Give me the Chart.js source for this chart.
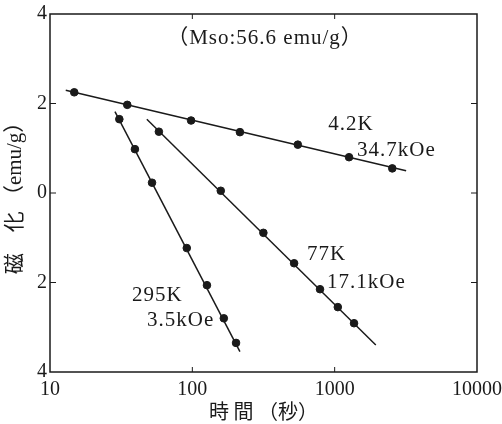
<!DOCTYPE html>
<html>
<head>
<meta charset="utf-8">
<script src="https://cdn.jsdelivr.net/npm/chart.js@4.4.0/dist/chart.umd.min.js"></script>
<style>
  html, body { margin:0; padding:0; background:#fff; }
</style>
</head>
<body>
<canvas id="chart" width="502" height="424"></canvas>
<script>
// ---- data (time in s, magnetisation in emu/g) ----
var T_42K  = [14.8, 34.9, 98, 216, 551, 1262, 2540];
var M_42K  = [2.25, 1.97, 1.62, 1.36, 1.08, 0.80, 0.55];
var FIT_T_42K = [12.9, 3177];
var FIT_M_42K = [2.295, 0.498];

var T_77K  = [58.2, 158.4, 315.6, 519, 789, 1052, 1368];
var M_77K  = [1.37, 0.05, -0.89, -1.57, -2.15, -2.55, -2.91];
var FIT_T_77K = [47.9, 1945];
var FIT_M_77K = [1.647, -3.397];

var T_295K = [30.7, 39.5, 52.1, 91.4, 126.7, 166.4, 202.8];
var M_295K = [1.65, 0.98, 0.23, -1.23, -2.06, -2.80, -3.35];
var FIT_T_295K = [28.6, 216];
var FIT_M_295K = [1.817, -3.546];

var X_TICKS = [10, 100, 1000, 10000];
var Y_TICKS = [-4, -2, 0, 2, 4];

// annotation texts, anchored in data coordinates
var NOTES = [
  { text: "（Mso:56.6 emu/g）", x: 324,  y: 3.46,  align: "center" },
  { text: "4.2K",    x: 900,  y: 1.52,  align: "left" },
  { text: "34.7kOe", x: 1435, y: 0.96,  align: "left" },
  { text: "77K",     x: 640,  y: -1.385, align: "left" },
  { text: "17.1kOe", x: 885,  y: -1.99, align: "left" },
  { text: "295K",    x: 37.7, y: -2.28, align: "left" },
  { text: "3.5kOe",  x: 48.1, y: -2.84, align: "left" }
];

var INK = "#1a1a1a";
var SERIF = "'Liberation Serif', 'DejaVu Serif', serif";
var CJK = "'Noto Sans CJK JP', sans-serif";

function pts(xs, ys){
  var out = [];
  for (var i=0;i<xs.length;i++) out.push({ x: xs[i], y: ys[i] });
  return out;
}
function fitLine(xs, ys){
  return { type:"line", data: pts(xs, ys), borderColor: INK, borderWidth: 1.5,
           pointRadius: 0, fill: false, tension: 0 };
}
function dots(xs, ys){
  return { type:"scatter", data: pts(xs, ys), backgroundColor: INK, borderColor: INK,
           pointRadius: 3.8, showLine: false };
}

// frame, inward ticks and text notes
var decorPlugin = {
  id: "decor",
  afterDraw: function(chart){
    var ctx = chart.ctx, a = chart.chartArea;
    var xs = chart.scales.x, ys = chart.scales.y;
    ctx.save();
    ctx.strokeStyle = INK;
    ctx.lineWidth = 1.5;
    ctx.strokeRect(a.left, a.top, a.right - a.left, a.bottom - a.top);
    ctx.lineWidth = 1;
    ctx.beginPath();
    [100, 1000].forEach(function(v){
      var px = xs.getPixelForValue(v);
      ctx.moveTo(px, a.bottom); ctx.lineTo(px, a.bottom - 5);
      ctx.moveTo(px, a.top);    ctx.lineTo(px, a.top + 5);
    });
    [-2, 0, 2].forEach(function(v){
      var py = ys.getPixelForValue(v);
      ctx.moveTo(a.left, py);  ctx.lineTo(a.left + 6, py);
      ctx.moveTo(a.right, py); ctx.lineTo(a.right - 6, py);
    });
    ctx.stroke();

    ctx.fillStyle = INK;
    ctx.textBaseline = "middle";
    ctx.font = "21px " + SERIF + ", " + CJK;
    if ("letterSpacing" in ctx) ctx.letterSpacing = "1px";
    NOTES.forEach(function(n){
      ctx.textAlign = n.align;
      ctx.fillText(n.text, xs.getPixelForValue(n.x), ys.getPixelForValue(n.y));
    });
    ctx.restore();
  }
};

function fixBox(w, h){
  return function(scale){
    if (w !== null) scale.width = w;
    if (h !== null) scale.height = h;
    scale.paddingLeft = 0; scale.paddingRight = 0;
    scale.paddingTop = 0;  scale.paddingBottom = 0;
  };
}

new Chart(document.getElementById("chart").getContext("2d"), {
  data: {
    datasets: [
      fitLine(FIT_T_42K, FIT_M_42K),  dots(T_42K, M_42K),
      fitLine(FIT_T_77K, FIT_M_77K),  dots(T_77K, M_77K),
      fitLine(FIT_T_295K, FIT_M_295K), dots(T_295K, M_295K)
    ]
  },
  options: {
    responsive: false,
    animation: false,
    layout: { padding: { top: 14, right: 25, left: 0, bottom: 0 } },
    plugins: { legend: { display: false }, tooltip: { enabled: false } },
    scales: {
      x: {
        type: "logarithmic",
        min: 10, max: 10000,
        grid: { display: false, drawTicks: false },
        border: { display: false },
        afterBuildTicks: function(s){ s.ticks = X_TICKS.map(function(v){ return { value: v }; }); },
        afterFit: fixBox(null, 52),
        ticks: {
          color: INK, padding: 6, maxRotation: 0, autoSkip: false,
          font: { family: SERIF, size: 20 },
          callback: function(v){ return String(v); }
        },
        title: {
          display: true, text: "時 間 （秒）", color: INK,
          font: { family: CJK, size: 20 }, padding: { top: 0, bottom: 1 }
        }
      },
      y: {
        min: -4, max: 4,
        grid: { display: false, drawTicks: false },
        border: { display: false },
        afterBuildTicks: function(s){ s.ticks = Y_TICKS.map(function(v){ return { value: v }; }); },
        afterFit: fixBox(50, null),
        ticks: {
          color: INK, padding: 3,
          font: { family: SERIF, size: 20 },
          callback: function(v){ return String(Math.abs(v)); }
        },
        title: {
          display: true, text: "磁　化 （emu/g）", color: INK,
          font: { family: SERIF + ", " + CJK, size: 21 }, padding: { top: 3, bottom: 0 }
        }
      }
    }
  },
  plugins: [decorPlugin]
});
</script>
</body>
</html>
